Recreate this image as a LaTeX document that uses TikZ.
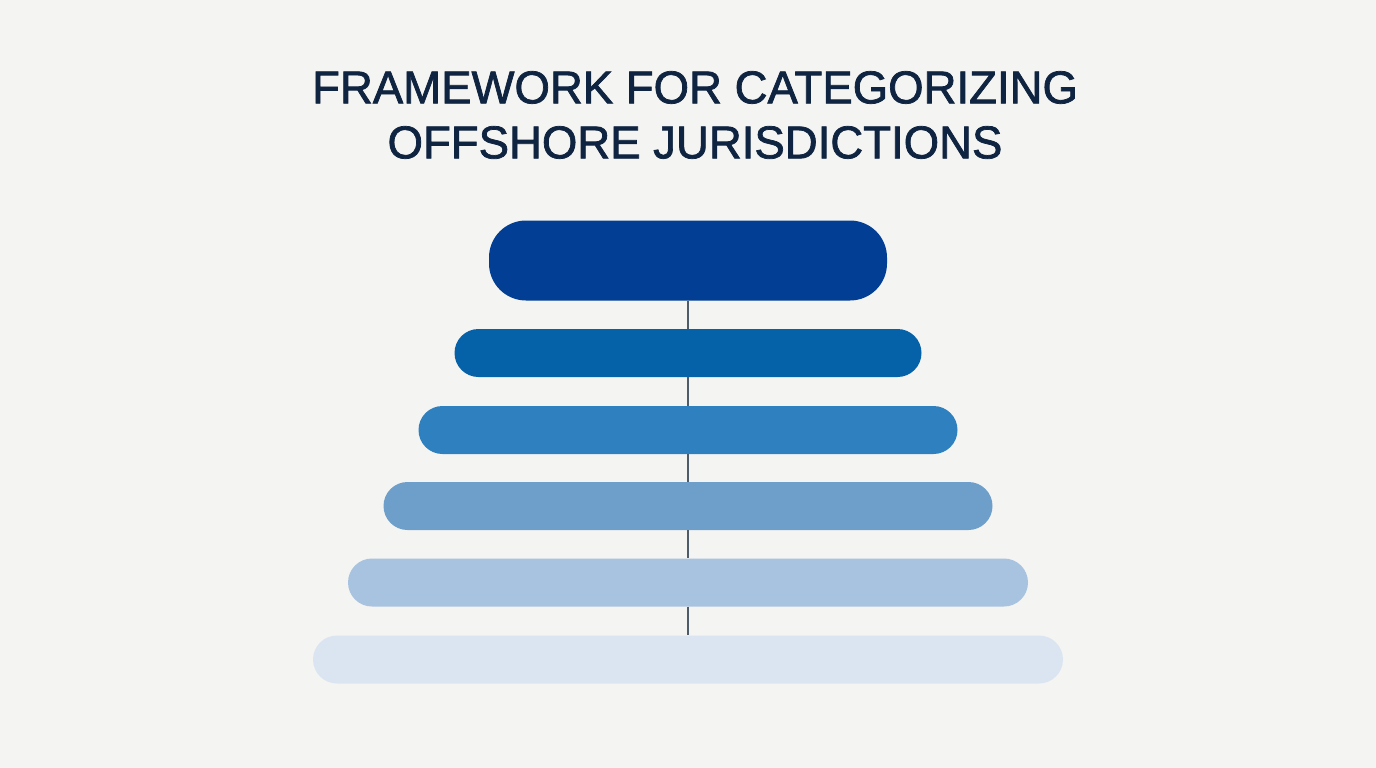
\documentclass[tikz,border=0pt]{standalone}
\usepackage{fontspec}
\setmainfont{Liberation Sans}
\newfontfamily\headfont[FakeBold=1.6, FakeStretch=0.99]{Liberation Sans}
\usetikzlibrary{positioning}
\definecolor{pagebg}{HTML}{F4F4F2}
\definecolor{titleblue}{HTML}{0F2440}
\definecolor{stemgray}{HTML}{4D5C68}
\definecolor{tierA}{HTML}{023F94}
\definecolor{tierB}{HTML}{0562A8}
\definecolor{tierC}{HTML}{2E80BF}
\definecolor{tierD}{HTML}{6E9FCB}
\definecolor{tierE}{HTML}{A8C3DF}
\definecolor{tierF}{HTML}{DBE5F1}
\tikzset{
    x=1pt, y=-1pt, % pixel units, y going down
    tier/.style={rectangle, draw=none, minimum height=48pt, rounded corners=24pt, inner sep=0pt}, % one band of the stack
    stem/.style={draw=stemgray, line width=1.3pt}, % thin line joining the bands
    heading/.style={font=\headfont\fontsize{46}{55}\selectfont, text=titleblue, align=center, inner sep=0pt},
}
\begin{document}
\begin{tikzpicture}
    \fill[pagebg] (0,0) rectangle (1376,768);
    \useasboundingbox (0,0) rectangle (1376,768);
    \node[heading, anchor=north] (title) at (695,71) {FRAMEWORK FOR CATEGORIZING\\OFFSHORE JURISDICTIONS};
    \node[tier, fill=tierA, minimum width=398pt, minimum height=80pt, rounded corners=37pt] (tier1) at (688,260.5) {};
    \foreach \i/\w/\y/\c in {2/467/353/tierB, 3/539/430/tierC, 4/609/506/tierD, 5/680/582.5/tierE, 6/750/659.5/tierF}
        \node[tier, fill=\c, minimum width=\w pt] (tier\i) at (688,\y) {};
    \foreach \i/\j in {1/2, 2/3, 3/4, 4/5, 5/6}
        \draw[stem] (tier\i.south) -- (tier\j.north);
\end{tikzpicture}
\end{document}
